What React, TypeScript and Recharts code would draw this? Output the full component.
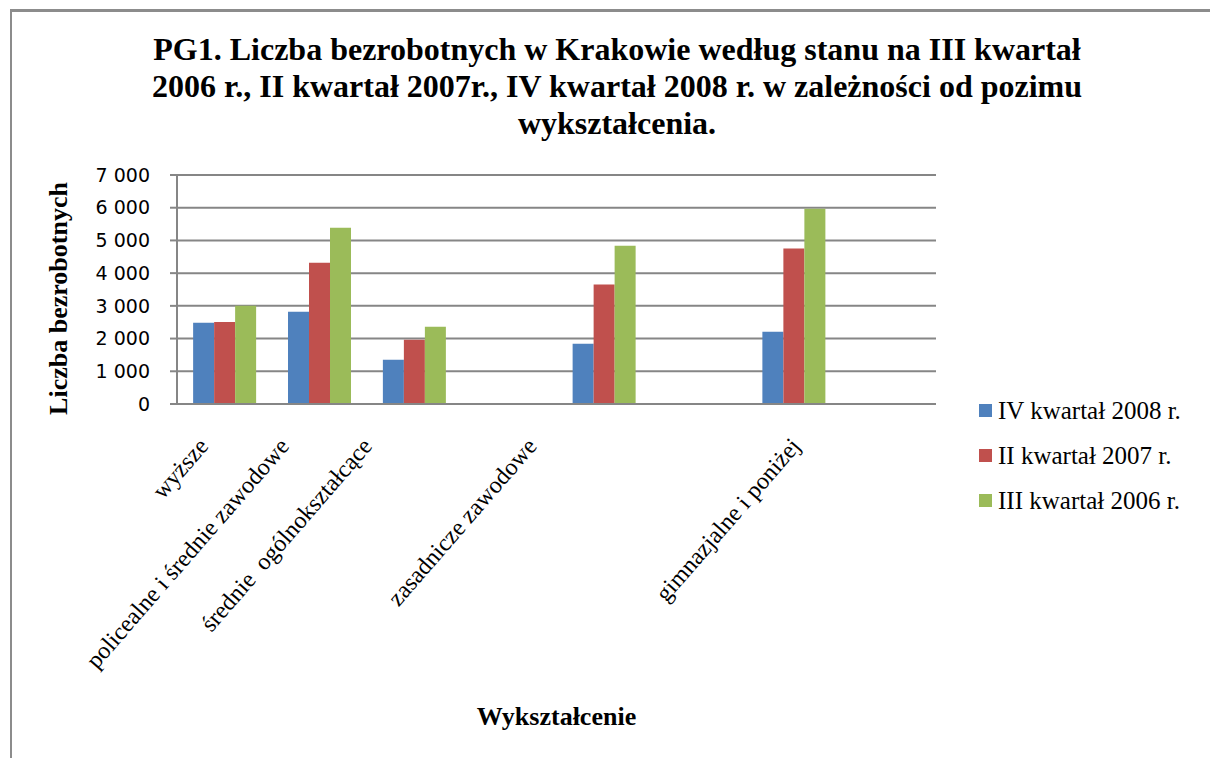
import React from "react";
import { BarChart, Bar, XAxis, YAxis, CartesianGrid, Legend } from "recharts";

const CATEGORIES = [
  "wyższe",
  "policealne i średnie zawodowe",
  "średnie  ogólnokształcące",
  "",
  "zasadnicze zawodowe",
  "",
  "gimnazjalne i poniżej",
  "",
];
const Q4_2008 = [2480, 2820, 1355, null, 1845, null, 2210, null];
const Q2_2007 = [2510, 4320, 1965, null, 3650, null, 4750, null];
const Q3_2006 = [3000, 5390, 2365, null, 4840, null, 5970, null];
const SERIES_NAMES = ["IV kwartał 2008 r.", "II kwartał 2007 r.", "III kwartał 2006 r."];
const Y_TICKS = [0, 1000, 2000, 3000, 4000, 5000, 6000, 7000];

const TITLE_LINES = [
  "PG1. Liczba bezrobotnych w Krakowie według stanu na III kwartał",
  "2006 r., II kwartał 2007r., IV kwartał 2008 r. w zależności od pozimu",
  "wykształcenia.",
];

const COLORS = ["#4F81BD", "#C0504D", "#9BBB59"];
const GRID = "#868686";
const SERIF = "'Liberation Serif', 'Times New Roman', serif";

// the labels in the original don't sit exactly under their groups
const LABEL_DX = [-15, -29, -41, 0, -66, 0, 8, 0];

const data = CATEGORIES.map((name, i) => ({
  name,
  q4_2008: Q4_2008[i],
  q2_2007: Q2_2007[i],
  q3_2006: Q3_2006[i],
}));

const fmt = (v: number) => (v >= 1000 ? `${Math.floor(v / 1000)} ${String(v % 1000).padStart(3, "0")}` : `${v}`);

function CategoryTick(props: any) {
  const { x, y, payload, index } = props;
  if (!payload.value) return null;
  return (
    <g transform={`translate(${x + (LABEL_DX[index] ?? 0)},${y + 43})`}>
      <text
        textAnchor="end"
        transform="rotate(-49)"
        fontFamily={SERIF}
        fontSize={24}
        fill="#000"
        style={{ whiteSpace: "pre" }}
      >
        {payload.value}
      </text>
    </g>
  );
}

function YTitle(props: any) {
  const { viewBox } = props;
  const cy = viewBox.y + viewBox.height / 2 + 9;
  return (
    <text
      transform={`translate(67,${cy}) rotate(-90)`}
      textAnchor="middle"
      fontFamily={SERIF}
      fontWeight="bold"
      fontSize={26}
      fill="#000"
    >
      Liczba bezrobotnych
    </text>
  );
}

function XTitle(props: any) {
  const { viewBox } = props;
  return (
    <text
      x={viewBox.x + viewBox.width / 2}
      y={725}
      textAnchor="middle"
      fontFamily={SERIF}
      fontWeight="bold"
      fontSize={26}
      fill="#000"
    >
      Wykształcenie
    </text>
  );
}

function LegendBox() {
  return (
    <div style={{ fontFamily: SERIF, fontSize: 25, color: "#000" }}>
      {SERIES_NAMES.map((n, i) => (
        <div key={n} style={{ height: 45, display: "flex", alignItems: "center" }}>
          <span style={{ width: 13, height: 13, background: COLORS[i], marginRight: 6, display: "inline-block" }} />
          <span style={{ whiteSpace: "nowrap" }}>{n}</span>
        </div>
      ))}
    </div>
  );
}

export default function App() {
  return (
    <div
      style={{
        position: "fixed",
        left: 0,
        top: 0,
        width: 1210,
        height: 758,
        background: "#fff",
        overflow: "hidden",
      }}
    >
      <div
        style={{
          position: "absolute",
          left: 10,
          top: 9,
          right: 0,
          bottom: 0,
          borderTop: "3px solid #8c8c8c",
          borderLeft: "2px solid #8c8c8c",
        }}
      />
      <div
        style={{
          position: "absolute",
          left: 100,
          width: 1034,
          top: 31,
          textAlign: "center",
          fontFamily: SERIF,
          fontWeight: "bold",
          fontSize: 32,
          lineHeight: "37px",
          color: "#000",
        }}
      >
        {TITLE_LINES.map((l) => (
          <div key={l} style={{ whiteSpace: "nowrap" }}>
            {l}
          </div>
        ))}
      </div>
      <div style={{ position: "absolute", left: 0, top: 0 }}>
        <BarChart
          width={1210}
          height={758}
          data={data}
          margin={{ top: 175, right: 274, bottom: 0, left: 0 }}
          barCategoryGap="17%"
          barGap={0}
        >
          <CartesianGrid vertical={false} stroke={GRID} strokeWidth={2} />
          <XAxis
            dataKey="name"
            height={354}
            interval={0}
            tickLine={false}
            tickSize={0}
            tickMargin={0}
            axisLine={{ stroke: GRID, strokeWidth: 2 }}
            tick={<CategoryTick />}
            label={XTitle}
          />
          <YAxis
            width={177}
            domain={[0, 7000]}
            ticks={Y_TICKS}
            interval={0}
            tickFormatter={fmt}
            tickSize={7}
            tickMargin={20}
            tickLine={{ stroke: GRID, strokeWidth: 2 }}
            axisLine={{ stroke: GRID, strokeWidth: 2 }}
            tick={{ fontFamily: "'DejaVu Sans', sans-serif", fontSize: 19, fill: "#000" }}
            label={YTitle}
          />
          <Legend
            layout="vertical"
            align="center"
            verticalAlign="middle"
            wrapperStyle={{ left: 979, top: 388, width: 230 }}
            content={() => <LegendBox />}
          />
          <Bar dataKey="q4_2008" name={SERIES_NAMES[0]} fill={COLORS[0]} isAnimationActive={false} />
          <Bar dataKey="q2_2007" name={SERIES_NAMES[1]} fill={COLORS[1]} isAnimationActive={false} />
          <Bar dataKey="q3_2006" name={SERIES_NAMES[2]} fill={COLORS[2]} isAnimationActive={false} />
        </BarChart>
      </div>
    </div>
  );
}
